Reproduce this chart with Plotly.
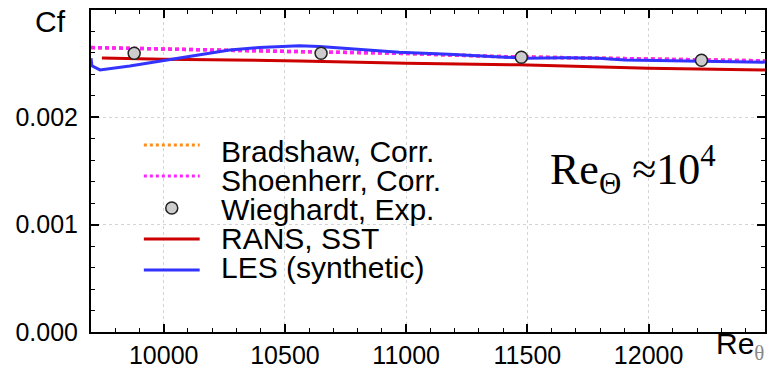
import plotly.graph_objects as go

# ---- data ----
re_bradshaw = [9700, 10148, 10559, 10971, 11382, 11793, 12204, 12480]
cf_bradshaw = [0.002650, 0.002628, 0.002612, 0.002597, 0.002566, 0.002551, 0.002535, 0.002526]

re_shoenherr = [9700, 10148, 10559, 10971, 11382, 11793, 12204, 12480]
cf_shoenherr = [0.002650, 0.002628, 0.002612, 0.002597, 0.002566, 0.002551, 0.002535, 0.002526]

re_wieghardt = [9878, 10649, 11475, 12218]
cf_wieghardt = [0.002597, 0.002597, 0.002560, 0.002532]

re_rans = [9745, 10000, 10559, 11000, 11464, 12000, 12480]
cf_rans = [0.002553, 0.002542, 0.002526, 0.002503, 0.002489, 0.002458, 0.002442]

re_les = [9700, 9704, 9737, 9860, 10033, 10148, 10272, 10395, 10559, 10642, 10834,
          10971, 11176, 11382, 11492, 11656, 11793, 11903, 12067, 12204, 12340, 12479]
cf_les = [0.002551, 0.002479, 0.002442, 0.002479, 0.002542, 0.002582, 0.002628, 0.002650,
          0.002668, 0.002659, 0.002628, 0.002607, 0.002588, 0.002566, 0.002551, 0.002554,
          0.002551, 0.002535, 0.002529, 0.002519, 0.002516, 0.002514]

x_ticks = [10000, 10500, 11000, 11500, 12000]
x_ticklabels = ["10000", "10500", "11000", "11500", "12000"]
y_ticks = [0.000, 0.001, 0.002]
y_ticklabels = ["0.000", "0.001", "0.002"]

legend_names = ["Bradshaw, Corr.", "Shoenherr, Corr.", "Wieghardt, Exp.", "RANS, SST", "LES (synthetic)"]

C_ORANGE = "#ff8c1a"
C_MAGENTA = "#ff22ff"
C_RED = "#cc0000"
C_BLUE = "#3333ff"

W, H = 767, 371
L, R, T, B = 91, 0, 10, 39
PW, PH = W - L - R, H - T - B


def px(xp):
    return (xp - L) / PW


def py(yp):
    return (H - B - yp) / PH


fig = go.Figure()
fig.add_trace(go.Scatter(x=re_bradshaw, y=cf_bradshaw, mode="lines",
                         line=dict(color=C_ORANGE, width=3.5, dash="4px,3px")))
fig.add_trace(go.Scatter(x=re_shoenherr, y=cf_shoenherr, mode="lines",
                         line=dict(color=C_MAGENTA, width=3.5, dash="4px,3px")))
fig.add_trace(go.Scatter(x=re_rans, y=cf_rans, mode="lines",
                         line=dict(color=C_RED, width=3)))
fig.add_trace(go.Scatter(x=re_les, y=cf_les, mode="lines",
                         line=dict(color=C_BLUE, width=3)))
fig.add_trace(go.Scatter(x=re_wieghardt, y=cf_wieghardt, mode="markers",
                         marker=dict(size=12, color="#cccccc", line=dict(color="#222222", width=1.5))))

font_sans = "Liberation Sans, Arial, sans-serif"
font_serif = "Liberation Serif, Times New Roman, serif"

# manual legend
sample_y = [145, 176, 208, 239, 270]
text_y = [151, 180, 209, 239, 267]
styles = [(C_ORANGE, "dot"), (C_MAGENTA, "dot"), (None, None), (C_RED, "solid"), (C_BLUE, "solid")]
shapes = []
annotations = []
for name, sy, ty, (col, dsh) in zip(legend_names, sample_y, text_y, styles):
    if col is None:
        shapes.append(dict(type="circle", xref="paper", yref="paper",
                           xsizemode="pixel", ysizemode="pixel",
                           xanchor=px(172), yanchor=py(sy),
                           x0=-6, x1=6, y0=-6, y1=6,
                           fillcolor="#cccccc", line=dict(color="#222222", width=1.5)))
    else:
        shapes.append(dict(type="line", xref="paper", yref="paper",
                           x0=px(144), x1=px(200), y0=py(sy), y1=py(sy),
                           line=dict(color=col, width=3,
                                     dash="3px,3px" if dsh == "dot" else "solid")))
    annotations.append(dict(text=name, xref="paper", yref="paper", x=px(219), y=py(ty),
                            xanchor="left", yanchor="middle", showarrow=False,
                            font=dict(family=font_sans, size=30, color="black")))

annotations.append(dict(text="Re<sub>Θ</sub>&nbsp;≈10<sup>4</sup>", xref="paper", yref="paper",
                        x=px(549), y=py(170), xanchor="left", yanchor="middle", showarrow=False,
                        font=dict(family=font_serif, size=44, color="black")))
annotations.append(dict(text="Cf", xref="paper", yref="paper", x=px(33), y=py(22),
                        xanchor="left", yanchor="middle", showarrow=False,
                        font=dict(family=font_sans, size=30, color="black")))
annotations.append(dict(text="Re<sub><span style='font-family:Liberation Serif;color:#888888'>θ</span></sub>",
                        xref="paper", yref="paper", x=px(716), y=py(346),
                        xanchor="left", yanchor="middle", showarrow=False,
                        font=dict(family=font_sans, size=30, color="black")))

fig.update_layout(
    width=W, height=H, margin=dict(l=L, r=R, t=T, b=B),
    plot_bgcolor="white", paper_bgcolor="white", showlegend=False,
    shapes=shapes, annotations=annotations,
    xaxis=dict(range=[9700, 12480], tickvals=x_ticks, ticktext=x_ticklabels,
               ticks="inside", ticklen=8, tickwidth=1.5,
               tickcolor="black", showline=True, linewidth=2, linecolor="black", mirror="ticks",
               showgrid=True, gridcolor="#d4d4d4", griddash="dot", gridwidth=1, zeroline=False,
               tickfont=dict(family=font_sans, size=25, color="black"),
               minor=dict(dtick=100, tick0=0, ticks="inside", ticklen=4, tickcolor="black",
                          tickwidth=1, showgrid=False)),
    yaxis=dict(range=[0, 0.003], tickvals=y_ticks, ticktext=y_ticklabels, ticks="inside",
               ticklen=8, tickwidth=1.5, tickcolor="black", showline=True, linewidth=2,
               linecolor="black", mirror="ticks", showgrid=True, gridcolor="#d4d4d4",
               griddash="dot", gridwidth=1, zeroline=False, ticklabelstandoff=6,
               tickfont=dict(family=font_sans, size=25, color="black"),
               minor=dict(dtick=0.0002, tick0=0, ticks="inside", ticklen=4, tickcolor="black",
                          tickwidth=1, showgrid=False)),
)

fig.write_html("out.html")
